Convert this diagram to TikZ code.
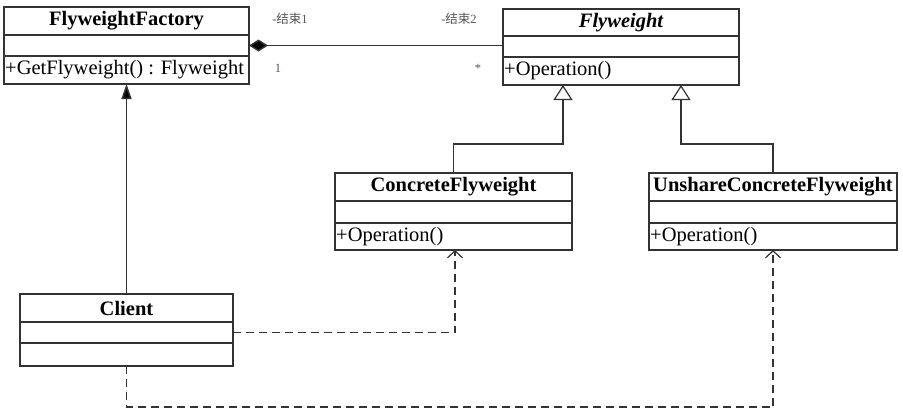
\documentclass[tikz,border=0pt]{standalone}
\usepackage{fontspec}
\setmainfont{Liberation Serif}
\newfontfamily\cjk{Noto Sans CJK SC}
\usetikzlibrary{arrows.meta}
\definecolor{linec}{HTML}{333333}
\definecolor{lblc}{HTML}{555555}
\tikzset{
  comp/.style={draw=linec, line width=1.5pt, inner sep=0pt, outer sep=0pt, anchor=north west,
    font=\fontsize{20.5}{23}\selectfont},
  hdr/.style={comp, font=\fontsize{20.5}{23}\selectfont\bfseries},
  optext/.style={anchor=west, inner sep=1pt, font=\fontsize{20.5}{23}\selectfont},
  conn/.style={draw=linec, line width=1.5pt},
  dashconn/.style={conn, dash pattern=on 8pt off 5pt},
  lbl/.style={font=\fontsize{12.5}{14}\selectfont, text=lblc, inner sep=0pt},
  gentip/.style={-{Triangle[open,length=15pt,width=19pt,fill=white,line width=1.2pt]}},
  deptip/.style={-{Straight Barb[length=7pt,width=15pt,line width=1.2pt]}},
}
\begin{document}
\begin{tikzpicture}[x=1pt,y=-1pt]
\useasboundingbox (0,0) rectangle (903,416);
% FlyweightFactory
\node[hdr, minimum width=245pt, minimum height=28pt] (ffh) at (4,7) {FlyweightFactory};
\node[comp, minimum width=245pt, minimum height=21pt] (ffa) at (4,35) {};
\node[comp, minimum width=245pt, minimum height=28pt] (ffo) at (4,56) {};
\node[optext] (ffot) at (ffo.west) {+GetFlyweight() : Flyweight};
% Flyweight
\node[hdr, font=\fontsize{20.5}{23}\selectfont\bfseries\itshape, minimum width=236pt, minimum height=27pt] (fwh) at (503,9) {Flyweight};
\node[comp, minimum width=236pt, minimum height=21pt] (fwa) at (503,36) {};
\node[comp, minimum width=236pt, minimum height=28pt] (fwo) at (503,57) {};
\node[optext] (fwot) at (fwo.west) {+Operation()};
% ConcreteFlyweight
\node[hdr, minimum width=237pt, minimum height=28pt] (cfh) at (335,173) {ConcreteFlyweight};
\node[comp, minimum width=237pt, minimum height=22pt] (cfa) at (335,201) {};
\node[comp, minimum width=237pt, minimum height=27pt] (cfo) at (335,223) {};
\node[optext] (cfot) at (cfo.west) {+Operation()};
% UnshareConcreteFlyweight
\node[hdr, minimum width=248pt, minimum height=28pt] (ufh) at (649,173) {UnshareConcreteFlyweight};
\node[comp, minimum width=248pt, minimum height=22pt] (ufa) at (649,201) {};
\node[comp, minimum width=248pt, minimum height=27pt] (ufo) at (649,223) {};
\node[optext] (ufot) at (ufo.west) {+Operation()};
% Client
\node[hdr, minimum width=213pt, minimum height=28pt] (clh) at (20,294) {Client};
\node[comp, minimum width=213pt, minimum height=21pt] (cla) at (20,322) {};
\node[comp, minimum width=213pt, minimum height=23pt] (clo) at (20,343) {};
% helper coordinates
\coordinate (g1) at (563,85);
\coordinate (g2) at (681,85);
\coordinate (d1) at (455,250);
\coordinate (d2) at (773,250);
\coordinate (b1) at (126.5,407);
% association
\draw[conn, {Diamond[length=19pt,width=12pt,fill=black]}-] (ffa.east) -- (ffa.east -| fwa.west);
\node[lbl] (r1) at (290,19) {-{\cjk 结束}1};
\node[lbl] (r2) at (459,19) {-{\cjk 结束}2};
\node[lbl] (m1) at (278,68) {1};
\node[lbl] (m2) at (478,68) {*};
% generalizations
\draw[conn, gentip] (cfh.north) -- ++(0,-29) -| (g1);
\draw[conn, gentip] (ufh.north) -- ++(0,-29) -| (g2);
% client -> factory
\draw[conn, -{Triangle[length=15pt,width=10pt,fill=black]}] (clh.north) -- (ffo.south);
% dependencies
\draw[dashconn, deptip] (cla.east) -| (d1);
\draw[dashconn, deptip] (clo.south) -- (b1) -| (d2);
\end{tikzpicture}
\end{document}
